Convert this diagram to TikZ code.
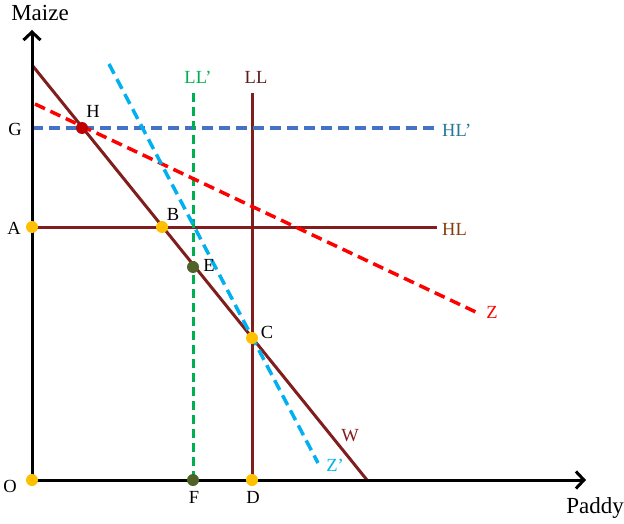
\documentclass[tikz,border=0pt]{standalone}
\usepackage{fontspec}
\setmainfont{Liberation Serif}
\usetikzlibrary{arrows.meta}
\definecolor{brn}{RGB}{128,30,30}
\definecolor{hlblue}{RGB}{68,114,196}
\definecolor{hltext}{RGB}{35,120,150}
\definecolor{hltxt}{RGB}{132,60,12}
\definecolor{llgreen}{RGB}{0,176,80}
\definecolor{lltext}{RGB}{90,28,28}
\definecolor{zblue}{RGB}{0,176,240}
\definecolor{dotorange}{RGB}{255,192,0}
\definecolor{dotred}{RGB}{192,0,0}
\definecolor{dotgreen}{RGB}{79,98,40}
\tikzset{
  axis/.style={line width=3pt,-{Straight Barb[length=8pt,width=17pt,line width=3pt]}},
  solidbrn/.style={brn,line width=3pt},
  dashline/.style={line width=3.5pt,dash pattern=on 11pt off 6pt},
  lbl/.style={font=\fontsize{18.5}{20}\selectfont,inner sep=0pt},
  axlbl/.style={font=\fontsize{23}{25}\selectfont,inner sep=0pt},
  pt/.style={circle,inner sep=0pt,minimum size=12pt},
}
\begin{document}
\begin{tikzpicture}[x=1pt,y=-1pt]
\useasboundingbox (0,0) rectangle (624,524);
% coordinates
\coordinate (Otop) at (32,30);
\coordinate (Oright) at (586,480);
\coordinate (W1) at (32,65);
\coordinate (W2) at (367,480);
\coordinate (Z1) at (35,104);
\coordinate (Z2) at (480,314);
\coordinate (Zp1) at (109,64);
\coordinate (Zp2) at (318,463);
\coordinate (HLp1) at (32,128);
\coordinate (HLp2) at (437,128);
\coordinate (HL1) at (32,227);
\coordinate (HL2) at (437,227);
\coordinate (LLp1) at (193,93);
\coordinate (LLp2) at (193,480);
\coordinate (LL1) at (252,93);
\coordinate (LL2) at (252,480);
% lines
\draw[solidbrn] (HL1) -- (HL2);
\draw[solidbrn] (LL1) -- (LL2);
\draw[solidbrn] (W1) -- (W2);
\draw[dashline,hlblue] (HLp1) -- (HLp2);
\draw[dashline,llgreen,line width=3pt,dash pattern=on 9pt off 5pt] (LLp1) -- (LLp2);
\draw[dashline,red] (Z1) -- (Z2);
\draw[dashline,zblue] (Zp1) -- (Zp2);
% axes
\coordinate (O) at (32,480);
\draw[axis] (O) -- (Otop);
\draw[axis] (O) -- (Oright);
% points
\node[pt,fill=dotorange] (O0) at (32,480) {};
\node[pt,fill=dotorange] (A0) at (32,227) {};
\node[pt,fill=dotred] (H0) at (82,128) {};
\node[pt,fill=dotorange] (B0) at (162,227) {};
\node[pt,fill=dotgreen] (E0) at (193,267) {};
\node[pt,fill=dotorange] (C0) at (252,338) {};
\node[pt,fill=dotgreen] (F0) at (193,480) {};
\node[pt,fill=dotorange] (D0) at (252,480) {};
% labels
\node[axlbl] (maize) at (40,13) {Maize};
\node[axlbl] (paddy) at (595,508) {Paddy};
\node[lbl] (Ol) at (10,486) {O};
\node[lbl] (Gl) at (15,129) {G};
\node[lbl] (Al) at (14,228) {A};
\node[lbl] (Hl) at (93,111) {H};
\node[lbl] (Bl) at (173,214) {B};
\node[lbl] (El) at (209,265) {E};
\node[lbl] (Cl) at (267,332) {C};
\node[lbl] (Fl) at (194,497) {F};
\node[lbl] (Dl) at (253,497) {D};
\node[lbl,brn] (Wl) at (350,436) {W};
\node[lbl,zblue] (Zpl) at (335,465) {Z’};
\node[lbl,red] (Zl) at (492,312) {Z};
\node[lbl,hltxt,anchor=west] (HLl) at (442,229) {HL};
\node[lbl,hltext,anchor=west] (HLpl) at (442,130) {HL’};
\node[lbl,llgreen] (LLpl) at (198,77) {LL’};
\node[lbl,lltext] (LLl) at (256,77) {LL};
\end{tikzpicture}
\end{document}
